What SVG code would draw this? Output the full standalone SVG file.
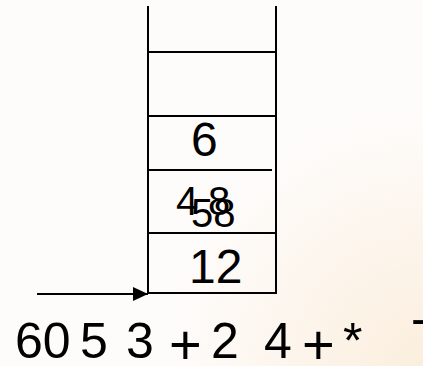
<svg xmlns="http://www.w3.org/2000/svg" width="423" height="366" viewBox="0 0 423 366">
<defs>
<radialGradient id="bg" cx="423" cy="366" r="260" gradientUnits="userSpaceOnUse">
<stop offset="0" stop-color="#fbeedd"/>
<stop offset="1" stop-color="#fefcfb"/>
</radialGradient>
<marker id="ah" viewBox="0 0 15 14" refX="15" refY="7" markerWidth="15" markerHeight="14" markerUnits="userSpaceOnUse" orient="auto">
<path d="M0,0 L15,7 L0,14 z" fill="#000"/>
</marker>
</defs>
<style>
.ln{stroke:#000;stroke-width:2;fill:none}
.t{font-family:"Liberation Sans",Arial,sans-serif;fill:#000}
.s{font-size:48px}
.m{font-size:40px}
.b{font-size:50px}
.p{font-size:56px}
</style>
<rect width="423" height="366" fill="url(#bg)"/>
<g id="stack">
<line class="ln" x1="148" y1="6" x2="148" y2="294"/>
<line class="ln" x1="276" y1="6" x2="276" y2="294"/>
<line class="ln" x1="148" y1="52" x2="276" y2="52"/>
<line class="ln" x1="148" y1="116" x2="276" y2="116"/>
<line class="ln" x1="148" y1="170" x2="272" y2="170"/>
<line class="ln" x1="148" y1="233" x2="276" y2="233"/>
<line class="ln" x1="148" y1="293" x2="276" y2="293"/>
</g>
<g id="cell6"><text class="t s" x="191" y="156">6</text></g>
<g id="cell48"><text class="t m" x="176" y="215">4</text><text class="t m" x="208" y="215">8</text><text class="t m" x="191" y="227">58</text></g>
<g id="cell12"><text class="t s" x="189" y="283">12</text></g>
<g id="connectors">
<line class="ln" x1="37" y1="294" x2="148" y2="294" marker-end="url(#ah)"/>
</g>
<g id="expr">
<text class="t b" x="15" y="358">60</text>
<text class="t b" x="80" y="358">5</text>
<text class="t b" x="126" y="358">3</text>
<text class="t p" x="169" y="364">+</text>
<text class="t b" x="211" y="358">2</text>
<text class="t b" x="264" y="358">4</text>
<text class="t p" x="302" y="364">+</text>
<text class="t b" x="343" y="358">*</text>
<text class="t b" x="411" y="335">-</text>
</g>
</svg>
